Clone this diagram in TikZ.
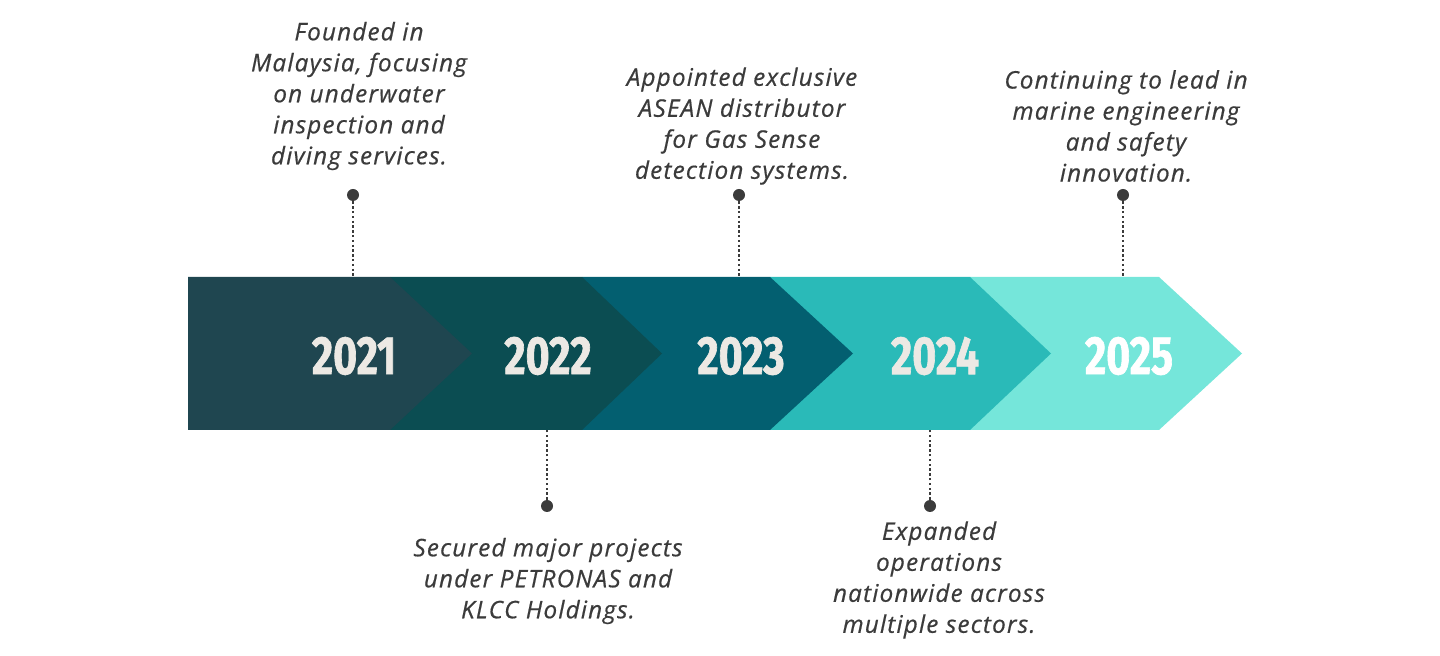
\documentclass[tikz,border=0pt]{standalone}
\usepackage{fontspec}
\setmainfont{Open Sans}
\newfontfamily\yearfont[FakeStretch=0.76, BoldFeatures={FakeBold=1.2}]{Fira Sans}
\newfontfamily\notefont[LetterSpace=5, ItalicFeatures={FakeBold=0.6}]{Open Sans}
\usetikzlibrary{positioning}

\definecolor{chevA}{HTML}{1F4650}
\definecolor{chevB}{HTML}{0B4D52}
\definecolor{chevC}{HTML}{035F70}
\definecolor{chevD}{HTML}{2ABAB8}
\definecolor{chevE}{HTML}{75E6DA}
\definecolor{yeartxt}{HTML}{ECE9E4}
\definecolor{notetxt}{HTML}{3B3B3B}

\begin{document}
\begin{tikzpicture}[
    x=0.5pt, y=-0.5pt,
    year/.style={font=\yearfont\bfseries\fontsize{27}{27}\selectfont, text=yeartxt, inner sep=0pt},
    note/.style={font=\notefont\itshape\fontsize{12.1}{15.5}\selectfont, text=notetxt, align=center, inner sep=0pt},
    dot/.style={circle, fill=notetxt, minimum size=6pt, inner sep=0pt},
    stem/.style={notetxt, line width=1pt, dash pattern=on 1.2pt off 1.2pt}
]
\useasboundingbox (0,0) rectangle (1440,656);

% chevrons, last one first so each tip sits on the next
\fill[chevE] (970,277) -- (1159,277) -- (1242,353.5) -- (1159,430) -- (970,430) -- cycle;
\fill[chevD] (770,277) -- (970,277) -- (1051,353.5) -- (970,430) -- (770,430) -- cycle;
\fill[chevC] (582,277) -- (770,277) -- (853,353.5) -- (770,430) -- (582,430) -- cycle;
\fill[chevB] (390,277) -- (582,277) -- (662,353.5) -- (582,430) -- (390,430) -- cycle;
\fill[chevA] (188,277) -- (390,277) -- (472,353.5) -- (390,430) -- (188,430) -- cycle;

\node[year] (y2021) at (354,356) {2021};
\node[year] (y2022) at (548,356) {2022};
\node[year] (y2023) at (741,356) {2023};
\node[year] (y2024) at (935,356) {2024};
\node[year, text=white] (y2025) at (1129,356) {2025};

% notes above
\node[note] (n2021) at (359,96) {Founded in\\Malaysia, focusing\\on underwater\\inspection and\\diving services.};
\node[note] (n2023) at (742,126) {Appointed exclusive\\ASEAN distributor\\for Gas Sense\\detection systems.};
\node[note] (n2025) at (1126,126) {Continuing to lead in\\marine engineering\\and safety\\innovation.};
% notes below
\node[note] (n2022) at (548,581) {Secured major projects\\under PETRONAS and\\KLCC Holdings.};
\node[note] (n2024) at (939,580) {Expanded\\operations\\nationwide across\\multiple sectors.};

\node[dot] (d2021) at (353,195) {};
\node[dot] (d2023) at (739,195) {};
\node[dot] (d2025) at (1123,195) {};
\node[dot] (d2022) at (547,506) {};
\node[dot] (d2024) at (930,506) {};

\coordinate (e2021) at (353,277);
\coordinate (e2023) at (739,277);
\coordinate (e2025) at (1123,277);
\coordinate (e2022) at (547,430);
\coordinate (e2024) at (930,430);

\draw[stem] (d2021) -- (e2021);
\draw[stem] (d2023) -- (e2023);
\draw[stem] (d2025) -- (e2025);
\draw[stem] (d2022) -- (e2022);
\draw[stem] (d2024) -- (e2024);
\end{tikzpicture}
\end{document}
